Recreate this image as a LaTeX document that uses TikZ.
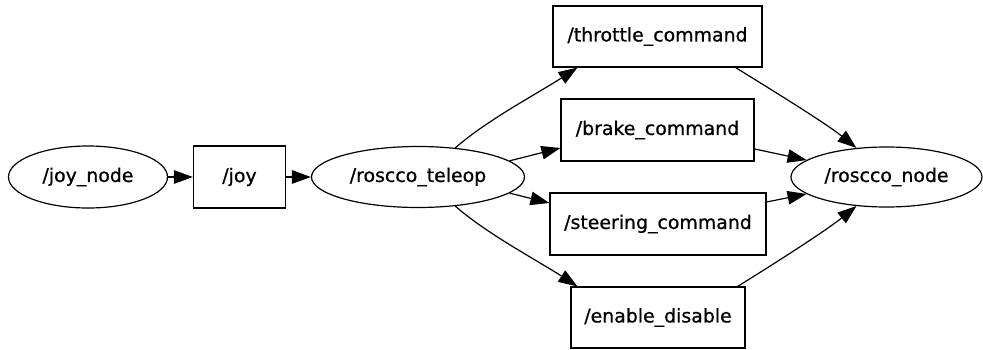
\documentclass[tikz,border=0pt]{standalone}
\usepackage{fontspec}
\setmainfont{DejaVu Sans}[BoldFont=*, BoldFeatures={FakeBold=0.8}]
\usetikzlibrary{shapes.geometric,arrows.meta}
\begin{document}
\begin{tikzpicture}[x=1pt,y=1pt,
  every node/.style={font=\fontsize{18.9}{22}\selectfont\bfseries, inner sep=0pt},
  rosnode/.style={ellipse, draw, line width=1.2pt},
  topic/.style={rectangle, draw, line width=1.2pt},
  link/.style={line width=1.2pt, -{Triangle[length=19pt,width=13.5pt]}}
]
\useasboundingbox (0,0) rectangle (983,349);

% nodes (ellipses) and topics (boxes)
\node[rosnode, minimum width=159pt, minimum height=62pt] (joynode) at (88,172) {/joy\_node};
\node[topic, minimum width=92pt, minimum height=62pt] (joy) at (239.5,172) {/joy};
\node[rosnode, minimum width=213pt, minimum height=61pt] (teleop) at (418,172) {/roscco\_teleop};

\node[topic, minimum width=209pt, minimum height=61pt] (throttle) at (657.5,312.5) {/throttle\_command};
\node[topic, minimum width=193pt, minimum height=62pt] (brake) at (657.5,219) {/brake\_command};
\node[topic, minimum width=216pt, minimum height=62pt] (steering) at (658,125) {/steering\_command};
\node[topic, minimum width=174pt, minimum height=61pt] (enable) at (658,31.5) {/enable\_disable};

\node[rosnode, minimum width=191pt, minimum height=60pt] (roscco) at (886.5,172) {/roscco\_node};

% left chain
\draw[link] (joynode.east) -- (joy.west);
\draw[link] (joy.east) -- (teleop.west);

% teleop publishes the four command topics
\draw[link] (teleop.38) .. controls +(32,28) and +(-40,-26) .. ([xshift=25pt]throttle.south west);
\draw[link] (teleop.10) -- ([yshift=-18pt]brake.west);
\draw[link] (teleop.350) -- ([yshift=21pt]steering.west);
\draw[link] (teleop.322) .. controls +(32,-28) and +(-40,26) .. ([xshift=7pt]enable.north west);

% the command topics feed roscco_node
\draw[link] ([xshift=-27pt]throttle.south east) .. controls +(34,-21) and +(-31,25) .. (roscco.136);
\draw[link] ([yshift=-19pt]brake.east) -- (roscco.168);
\draw[link] ([yshift=22pt]steering.east) -- (roscco.192);
\draw[link] ([xshift=-8pt]enable.north east) .. controls +(34,21) and +(-31,-25) .. (roscco.224);
\end{tikzpicture}
\end{document}
